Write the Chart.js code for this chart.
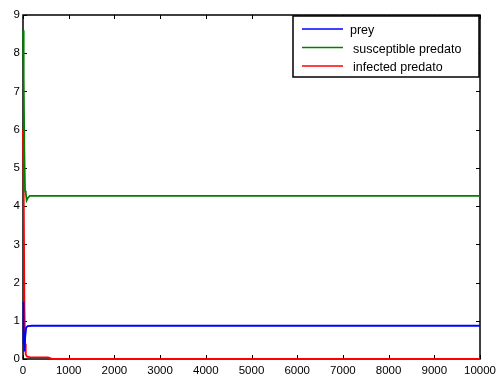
<!DOCTYPE html>
<html>
<head>
<meta charset="utf-8">
<script src="https://cdn.jsdelivr.net/npm/chart.js@4.4.0/dist/chart.umd.min.js"></script>
<style>
  html, body { margin: 0; padding: 0; background: #fff; }
  #wrap { width: 504px; height: 378px; }
</style>
</head>
<body>
<div id="wrap"><canvas id="chart" width="504" height="378"></canvas></div>
<script>
// time points and values
const preyT = [0, 8, 15, 30, 50, 70, 100, 200, 10000];
const preyY = [0.4, 1.5, 0.9, 0.2, 0.6, 0.82, 0.86, 0.87, 0.87];
const suscT = [0, 15, 30, 45, 60, 80, 110, 150, 250, 10000];
const suscY = [8.6, 7.4, 5.4, 4.4, 4.35, 4.15, 4.22, 4.27, 4.27, 4.27];
const infT = [0, 15, 30, 45, 60, 90, 150, 550, 650, 10000];
const infY = [6.0, 4.5, 1.5, 0.4, 0.12, 0.06, 0.05, 0.04, 0.0, 0.0];
const xTicks = [0, 1000, 2000, 3000, 4000, 5000, 6000, 7000, 8000, 9000, 10000];
const yTicks = [0, 1, 2, 3, 4, 5, 6, 7, 8, 9];
const seriesNames = ['prey', 'susceptible predato', 'infected predato'];
const seriesColors = ['#0000ff', '#008000', '#ff0000'];

function toPoints(ts, ys) {
    return ts.map((t, i) => ({ x: t, y: ys[i] }));
}

// matlab-ish box with inward ticks (under the lines), legend on top
const boxPlugin = {
    id: 'box',
    beforeDatasetsDraw(chart) {
        const ctx = chart.ctx;
        const a = chart.chartArea;
        const xs = chart.scales.x, ys = chart.scales.y;
        ctx.save();
        ctx.strokeStyle = '#000';
        ctx.lineWidth = 1.5;
        ctx.strokeRect(a.left, a.top, a.right - a.left, a.bottom - a.top);
        ctx.lineWidth = 1;
        ctx.beginPath();
        xTicks.forEach(v => {
            const px = Math.round(xs.getPixelForValue(v)) + 0.5;
            ctx.moveTo(px, a.bottom); ctx.lineTo(px, a.bottom - 4);
            ctx.moveTo(px, a.top); ctx.lineTo(px, a.top + 4);
        });
        yTicks.forEach(v => {
            const py = Math.round(ys.getPixelForValue(v)) + 0.5;
            ctx.moveTo(a.left, py); ctx.lineTo(a.left + 4, py);
            ctx.moveTo(a.right, py); ctx.lineTo(a.right - 4, py);
        });
        ctx.stroke();
        ctx.restore();
    },
    afterDraw(chart) {
        const ctx = chart.ctx;
        ctx.save();
        const lx = 293, ly = 16, lw = 186, lh = 61;
        ctx.fillStyle = '#fff';
        ctx.fillRect(lx, ly, lw, lh);
        ctx.strokeStyle = '#000';
        ctx.lineWidth = 1.5;
        ctx.strokeRect(lx, ly, lw, lh);
        ctx.font = '12.5px "Liberation Sans", Arial, sans-serif';
        ctx.textBaseline = 'middle';
        chart.data.datasets.forEach((ds, i) => {
            const y = ly + 13 + i * 18.5;
            ctx.strokeStyle = ds.borderColor;
            ctx.lineWidth = 1.5;
            ctx.beginPath();
            ctx.moveTo(lx + 9, y); ctx.lineTo(lx + 50, y);
            ctx.stroke();
            ctx.fillStyle = '#000';
            ctx.fillText(ds.label, lx + (i === 0 ? 57 : 60), y + 2);
        });
        ctx.restore();
    }
};

const chart = new Chart(document.getElementById('chart'), {
    type: 'line',
    data: {
        datasets: [
            { label: seriesNames[0], data: toPoints(preyT, preyY) },
            { label: seriesNames[1], data: toPoints(suscT, suscY) },
            { label: seriesNames[2], data: toPoints(infT, infY) }
        ].map((ds, i) => Object.assign(ds, {
            borderColor: seriesColors[i],
            borderWidth: 1.8,
            pointRadius: 0,
            tension: 0,
            fill: false,
            clip: 2
        }))
    },
    options: {
        responsive: false,
        animation: false,
        layout: { padding: { top: 15, right: 24, left: 0, bottom: 0 } },
        plugins: { legend: { display: false }, tooltip: { enabled: false } },
        scales: {
            x: {
                type: 'linear',
                min: 0, max: 10000,
                afterBuildTicks: s => { s.ticks = xTicks.map(v => ({ value: v })); },
                afterFit: s => { s.height = 19; },
                grid: { display: false, drawTicks: false },
                border: { display: false },
                ticks: {
                    color: '#000',
                    padding: 5,
                    maxRotation: 0,
                    autoSkip: false,
                    font: { family: '"Liberation Sans", Arial, sans-serif', size: 11.5 },
                    callback: v => String(v)
                }
            },
            y: {
                min: 0, max: 9,
                afterBuildTicks: s => { s.ticks = yTicks.map(v => ({ value: v })); },
                afterFit: s => { s.width = 23; },
                grid: { display: false, drawTicks: false },
                border: { display: false },
                ticks: {
                    color: '#000',
                    padding: 3,
                    font: { family: '"Liberation Sans", Arial, sans-serif', size: 11.5 }
                }
            }
        }
    },
    plugins: [boxPlugin]
});
</script>
</body>
</html>
